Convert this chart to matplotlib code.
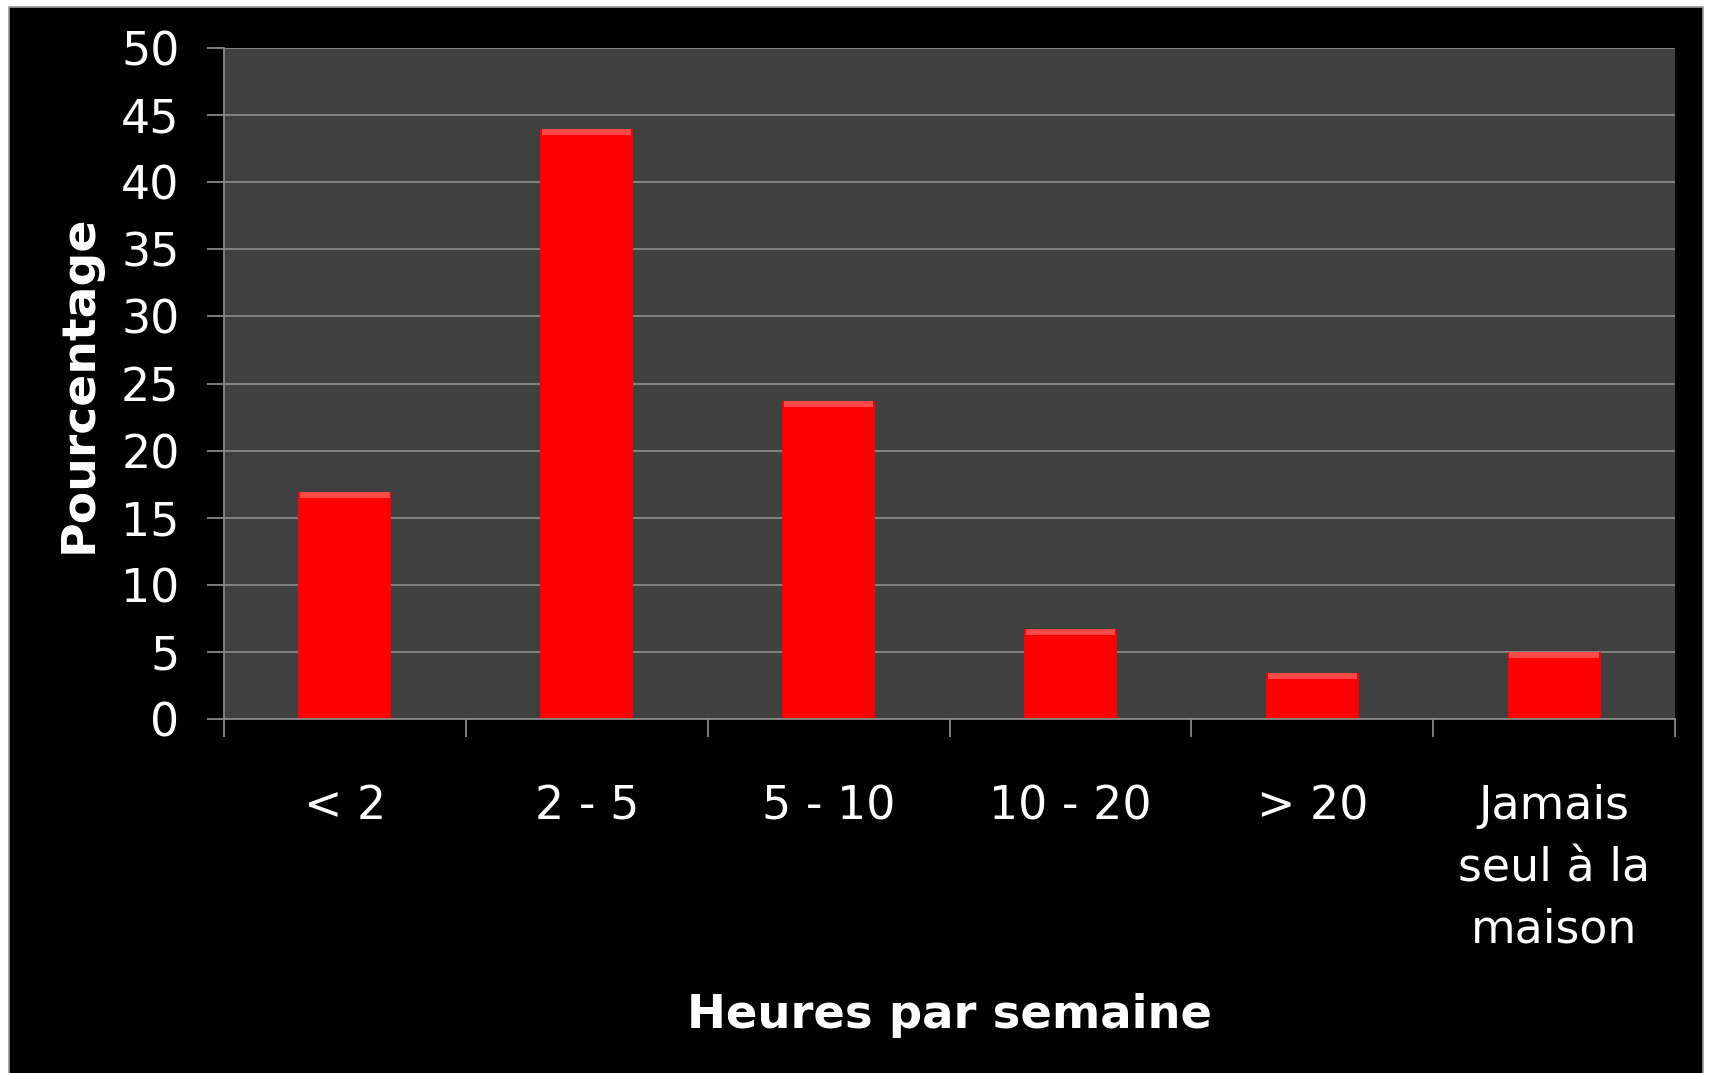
import matplotlib
matplotlib.use("Agg")
import matplotlib.pyplot as plt
from matplotlib.patches import Rectangle
import numpy as np

# data
categories = ["< 2", "2 - 5", "5 - 10", "10 - 20", "> 20", "Jamais\nseul à la\nmaison"]
values = [16.9, 44.0, 23.7, 6.7, 3.4, 5.0]
yticks = list(range(0, 51, 5))

BLACK = "#000000"
PLOT_BG = "#404040"
GRID = "#888888"
RED = "#ff0000"
RED_TOP = "#ff4a4a"
WHITE = "#ffffff"

plt.rcParams["font.family"] = ["DejaVu Sans"]

fig = plt.figure(figsize=(17.10, 10.73), dpi=100, facecolor=WHITE)

# black slide background with thin grey frame
fig.patches.append(Rectangle((9 / 1710, -0.01), (1703 - 9) / 1710, 1.01 - 7 / 1073,
                             transform=fig.transFigure, facecolor=BLACK,
                             edgecolor="#9a9a9a", linewidth=1.2, zorder=-10))

ax = fig.add_axes([224 / 1710, 1 - 719 / 1073, (1675 - 224) / 1710, (719 - 48) / 1073])
ax.set_zorder(1)
ax.set_facecolor(PLOT_BG)

x = np.arange(len(categories))
ax.bar(x, values, width=0.385, color=RED, zorder=3)
# light bevel along the top of each bar
ax.bar(x, [0.45] * len(values), bottom=np.array(values) - 0.45, width=0.37,
       color=RED_TOP, zorder=4)

ax.set_xlim(-0.5, len(categories) - 0.5)
ax.set_ylim(0, 50)
ax.set_yticks(yticks)
ax.yaxis.grid(True, color=GRID, linewidth=1.3, zorder=1)
ax.set_axisbelow(True)

for s in ["top", "right"]:
    ax.spines[s].set_visible(False)
for s in ["left", "bottom"]:
    ax.spines[s].set_color(GRID)
    ax.spines[s].set_linewidth(1.3)
    ax.spines[s].set_zorder(5)

ax.set_xticks(x)
ax.set_xticklabels(categories, fontsize=33, color=WHITE, linespacing=1.48)
ax.set_xticks(np.arange(-0.5, len(categories)), minor=True)
ax.tick_params(axis="x", which="major", length=0, pad=47)
ax.tick_params(axis="x", which="minor", length=13, width=1.3, color=GRID, direction="out")
ax.tick_params(axis="y", length=12, width=1.3, color=GRID, pad=20, labelsize=33,
               labelcolor=WHITE)

ax.set_ylabel("Pourcentage", fontsize=34, fontweight="bold", color=WHITE)
ax.yaxis.set_label_coords(-0.084, 0.5)
ax.set_xlabel("Heures par semaine", fontsize=33.5, fontweight="bold", color=WHITE)
ax.xaxis.label.set_va("center")
ax.xaxis.set_label_coords(0.5, -0.4426)

fig.savefig("out.png", dpi=100, facecolor=WHITE)
